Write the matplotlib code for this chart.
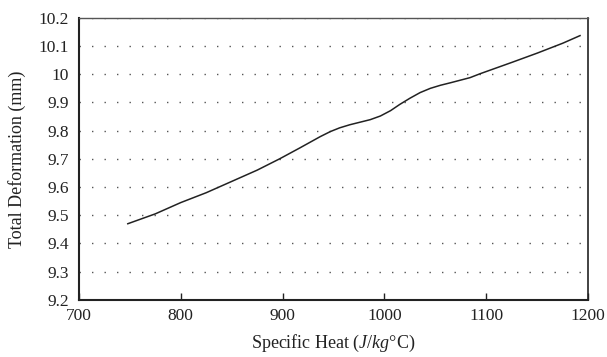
import matplotlib
matplotlib.use("Agg")
import matplotlib.pyplot as plt

plt.rcParams['font.family'] = ['Liberation Serif', 'DejaVu Serif']
plt.rcParams['mathtext.fontset'] = 'custom'
plt.rcParams['mathtext.rm'] = 'Liberation Serif'
plt.rcParams['mathtext.it'] = 'Liberation Serif:italic'

specific_heat = [748, 775, 800, 825, 850, 875, 897, 917, 937, 947, 956, 966, 976, 986, 996, 1006,
                 1015, 1025, 1035, 1045, 1055, 1065, 1084, 1094, 1125, 1150, 1175, 1192]
deformation = [9.47, 9.505, 9.545, 9.58, 9.62, 9.66, 9.70, 9.739, 9.779, 9.797, 9.81, 9.821, 9.83, 9.839, 9.852, 9.871,
               9.893, 9.915, 9.935, 9.95, 9.961, 9.97, 9.988, 10.002, 10.042, 10.075, 10.11, 10.137]

x_ticks = [700, 800, 900, 1000, 1100, 1200]
y_ticks = [9.2, 9.3, 9.4, 9.5, 9.6, 9.7, 9.8, 9.9, 10.0, 10.1, 10.2]
y_tick_labels = ['9.2', '9.3', '9.4', '9.5', '9.6', '9.7', '9.8', '9.9', '10', '10.1', '10.2']

fig = plt.figure(figsize=(6.07, 3.57), dpi=100)
ax = fig.add_axes([0.130, 0.160, 0.839, 0.790])

ax.plot(specific_heat, deformation, color='#222222', lw=1.1, solid_joinstyle='round')

ax.set_xlim(700, 1200)
ax.set_ylim(9.2, 10.2)
ax.set_xticks(x_ticks)
ax.set_yticks(y_ticks)
ax.set_yticklabels(y_tick_labels)

ax.yaxis.grid(True, linestyle=(0, (1, 8)), color='#555555', lw=1.0)
ax.set_axisbelow(True)

ax.tick_params(axis='x', direction='in', length=5, width=1, colors='#222222', labelsize=12.5, pad=6, labelcolor='#222222')
ax.tick_params(axis='y', length=0, labelsize=12.5, pad=7, labelcolor='#222222')

for s in ['left', 'bottom']:
    ax.spines[s].set_linewidth(1.5)
    ax.spines[s].set_color('#222222')
ax.spines['top'].set_linewidth(1.0)
ax.spines['top'].set_color('#555555')
ax.spines['right'].set_linewidth(1.2)
ax.spines['right'].set_color('#222222')

ax.set_xlabel('Specific Heat ($\\mathit{J/kg}$°C)', fontsize=13, color='#222222', labelpad=6)
ax.set_ylabel('Total Deformation (mm)', fontsize=13, color='#222222', labelpad=9)

fig.savefig('out.png', dpi=100)
